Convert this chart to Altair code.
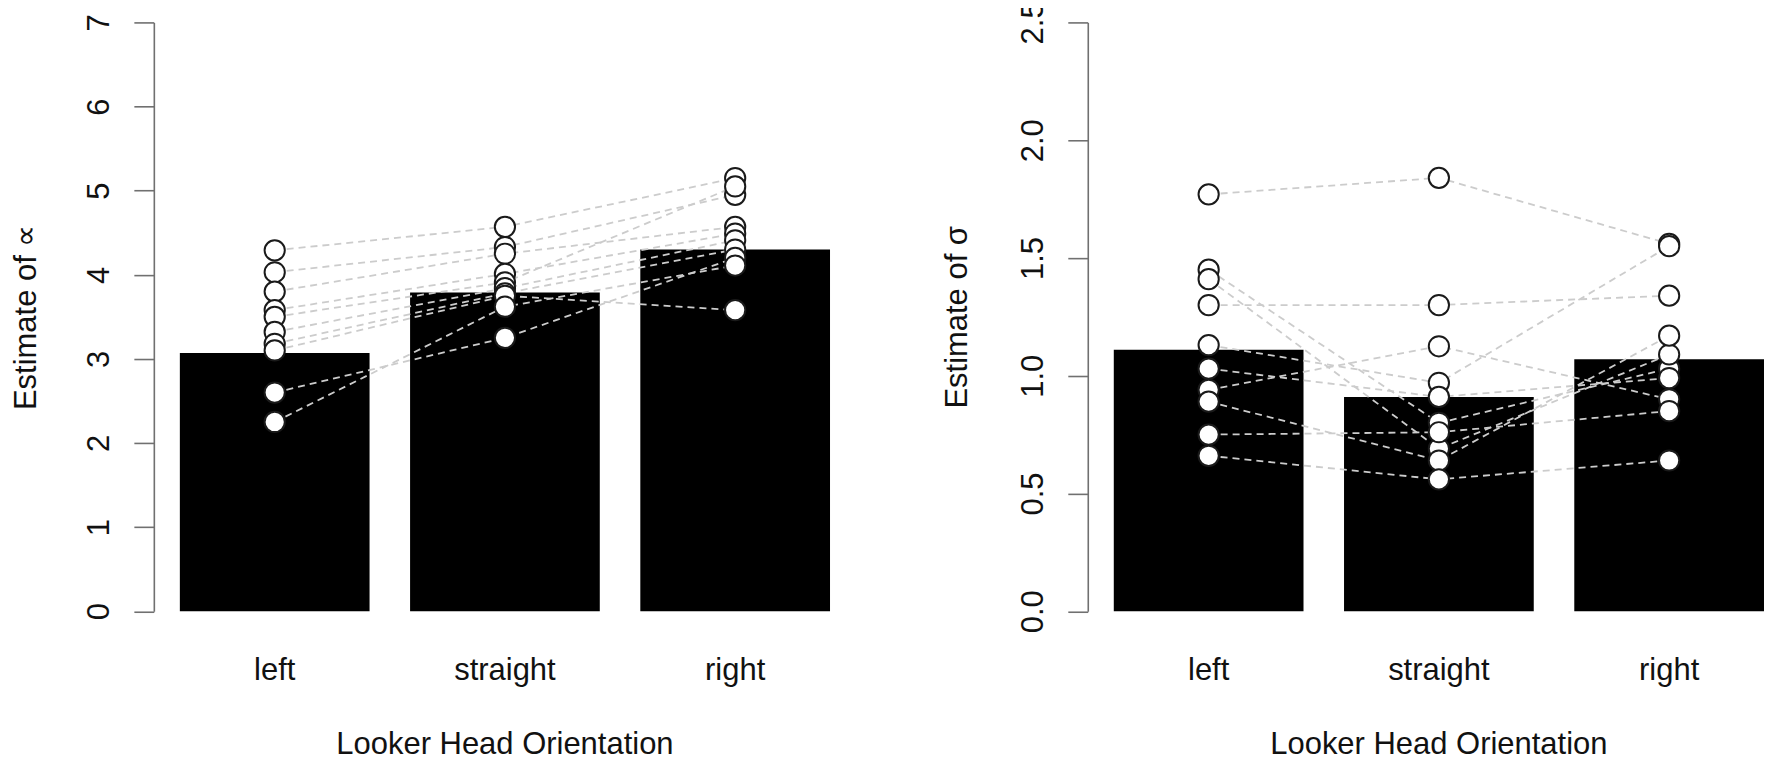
import altair as alt
import pandas as pd

categories = ["left", "straight", "right"]
subjects = list(range(1, 11))

alpha_bars = [3.07, 3.79, 4.30]
alpha_left = [4.29, 4.03, 3.80, 3.58, 3.50, 3.32, 3.18, 3.10, 2.60, 2.25]
alpha_straight = [4.57, 4.33, 4.25, 4.01, 3.91, 3.84, 3.78, 3.75, 3.25, 3.62]
alpha_right = [5.15, 4.95, 4.57, 4.49, 5.05, 4.41, 4.30, 3.58, 4.20, 4.11]

sigma_bars = [1.11, 0.91, 1.07]
sigma_left = [1.77, 1.45, 1.41, 1.30, 1.13, 1.03, 0.94, 0.89, 0.75, 0.66]
sigma_straight = [1.84, 0.80, 0.69, 1.30, 0.97, 0.91, 1.125, 0.64, 0.76, 0.56]
sigma_right = [1.56, 1.03, 1.09, 1.34, 1.55, 0.99, 0.90, 1.17, 0.85, 0.64]

alpha_ticks = [0, 1, 2, 3, 4, 5, 6, 7]
sigma_ticks = [0.0, 0.5, 1.0, 1.5, 2.0, 2.5]

FONT = "Liberation Sans"
AXIS_GRAY = "#707070"


def panel(bars, left, straight, right, ymax, ytitle, ticks, fmt, width, pad_outer, align, title_x):
    bar_df = pd.DataFrame({"orientation": categories, "value": bars, "pos": [0, 1, 2]})
    rows = []
    for s, a, b, c in zip(subjects, left, straight, right):
        for pos, (cat, v) in enumerate(zip(categories, [a, b, c])):
            rows.append({"subject": s, "orientation": cat, "value": v, "pos": pos})
    pts = pd.DataFrame(rows)

    x = alt.X(
        "orientation:N",
        sort=categories,
        scale=alt.Scale(domain=categories, paddingInner=0.176, paddingOuter=pad_outer, align=align),
        axis=alt.Axis(
            title="Looker Head Orientation",
            labelAngle=0,
            domain=False,
            ticks=False,
            tickSize=0,
            grid=False,
            labelPadding=44,
            labelFontSize=31,
            labelColor="#111111",
            labelFont=FONT,
            titleFont=FONT,
            titleFontSize=31,
            titleFontWeight="normal",
            titleColor="#111111",
            titleX=351,
            titleY=133,
            titleBaseline="middle",
            titleAlign="center",
        ),
    )
    y = alt.Y(
        "value:Q",
        scale=alt.Scale(domain=[0, ymax], nice=False, zero=True),
        axis=alt.Axis(
            title=ytitle,
            values=ticks,
            format=fmt,
            grid=False,
            labelAngle=270,
            labelAlign="center",
            labelBaseline="alphabetic",
            labelPadding=25,
            labelFontSize=31,
            labelColor="#111111",
            labelFont=FONT,
            tickSize=20,
            tickWidth=1.6,
            tickColor=AXIS_GRAY,
            domainColor=AXIS_GRAY,
            domainWidth=1.6,
            titleFont=FONT,
            titleFontSize=31,
            titleFontWeight="normal",
            titleColor="#111111",
            titleAngle=270,
            titleX=title_x,
            titleBaseline="middle",
            titleAlign="center",
        ),
    )

    bar_layer = alt.Chart(bar_df).mark_bar(color="black").encode(x=x, y=y)
    line_layer = alt.Chart(pts).mark_line(
        color="#cccccc", strokeDash=[7, 5], strokeWidth=1.8
    ).encode(x=x, y=y, detail="subject:N", order=alt.Order("pos:Q"))
    point_layer = alt.Chart(pts).mark_circle(
        fill="white", stroke="#1a1a1a", strokeWidth=2, size=410, opacity=1
    ).encode(x=x, y=y)

    return alt.layer(bar_layer, line_layer, point_layer).properties(width=width, height=589.5)


left_panel = panel(alpha_bars, alpha_left, alpha_straight, alpha_right, 7,
                   "Estimate of \u221d", alpha_ticks, "d", 703, 0.113, 0.5, -127)
right_panel = panel(sigma_bars, sigma_left, sigma_straight, sigma_right, 2.5,
                    "Estimate of \u03c3", sigma_ticks, ".1f", 677, 0.0565, 1.0, -130)

chart = (
    alt.hconcat(left_panel, right_panel, spacing=86)
    .properties(padding={"left": 3, "top": -8, "right": 0, "bottom": 0}, background="white")
    .configure(font=FONT)
    .configure_view(stroke=None)
)

chart.save("out.html", embed_options={"renderer": "svg", "actions": False})
